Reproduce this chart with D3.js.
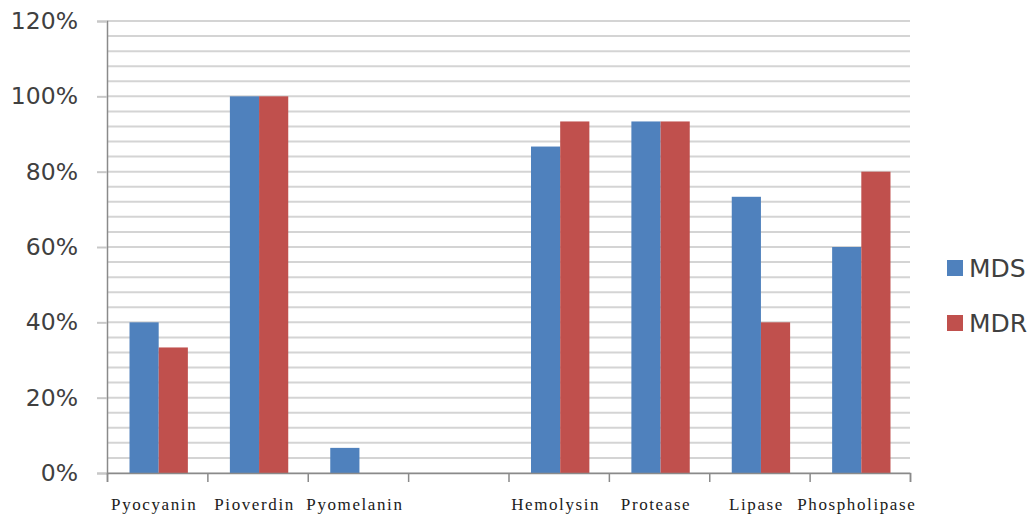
<!DOCTYPE html>
<html><head><meta charset="utf-8">
<script src="https://cdn.jsdelivr.net/npm/d3@7"></script>
<style>body{margin:0;background:#fff}svg{display:block}</style>
</head><body>
<svg id="c" width="1033" height="515"></svg>
<script>
const categories = ["Pyocyanin","Pioverdin","Pyomelanin","","Hemolysin","Protease","Lipase","Phospholipase"];
const seriesNames = ["MDS","MDR"];
const mdsValues = [40, 100, 6.67, 0, 86.67, 93.33, 73.33, 60];
const mdrValues = [33.33, 100, 0, 0, 93.33, 93.33, 40, 80];
const yTicks = [0,20,40,60,80,100,120];
const colors = ["#4F81BD","#C0504D"];

const svg = d3.select("#c");
const L = 107, R = 910, T = 21, B = 473;
const x = d3.scaleBand().domain(d3.range(categories.length)).range([L,R]).paddingInner(0).paddingOuter(0);
const xs = d3.scaleBand().domain(seriesNames).range([0, x.bandwidth()]).paddingInner(0).paddingOuter(0.72);
const y = d3.scaleLinear().domain([0,120]).range([B,T]);

// minor gridlines every 4%
const grid = d3.range(0,121,4);
svg.append("g").selectAll("line").data(grid).join("line")
  .attr("x1",L).attr("x2",R)
  .attr("y1",d=>y(d)).attr("y2",d=>y(d))
  .attr("stroke","#d4d4d4").attr("stroke-width",2);

// y axis
const ya = svg.append("g").attr("transform",`translate(${L},0)`)
  .call(d3.axisLeft(y).tickValues(yTicks).tickSize(10).tickFormat(d=>d+"%"));
ya.select(".domain").attr("stroke","#8a8a8a").attr("stroke-width",1.5);
ya.selectAll(".tick line").attr("stroke","#c8c8c8").attr("stroke-width",2);
ya.selectAll(".tick text").attr("x",-29).attr("font-family","DejaVu Sans").attr("font-size",23.5).attr("fill","#404040");

// bars
const data = [mdsValues, mdrValues];
seriesNames.forEach((s,si)=>{
  svg.append("g").selectAll("rect").data(data[si]).join("rect")
    .attr("x",(d,i)=>x(i)+xs(s)+1.5)
    .attr("width",xs.bandwidth())
    .attr("y",d=>y(d))
    .attr("height",d=>B-y(d))
    .attr("fill",colors[si]);
});

// x axis
const xa = svg.append("g").attr("transform",`translate(0,${B})`)
  .call(d3.axisBottom(d3.scaleLinear().domain([0,categories.length]).range([L,R]))
    .tickValues(d3.range(categories.length+1)).tickSize(9).tickFormat(""));
xa.select(".domain").attr("stroke","#8a8a8a").attr("stroke-width",1.5);
xa.selectAll(".tick line").attr("stroke","#8a8a8a").attr("stroke-width",1.5);
svg.append("g").selectAll("text").data(categories).join("text")
  .attr("x",(d,i)=>x(i)+x.bandwidth()/2-3)
  .attr("y",510)
  .attr("text-anchor","middle")
  .attr("font-family","Liberation Serif").attr("font-size",17)
  .attr("letter-spacing","1.6px")
  .attr("fill","#202020")
  .text(d=>d);

// legend
const lg = svg.append("g");
seriesNames.forEach((s,i)=>{
  const cy = 268 + i*55;
  lg.append("rect").attr("x",947).attr("y",cy-8).attr("width",16).attr("height",16).attr("fill",colors[i]);
  lg.append("text").attr("x",969).attr("y",cy).attr("dy","0.36em")
    .attr("font-family","DejaVu Sans").attr("font-size",25).attr("fill","#404040").text(s);
});
</script>
</body></html>
